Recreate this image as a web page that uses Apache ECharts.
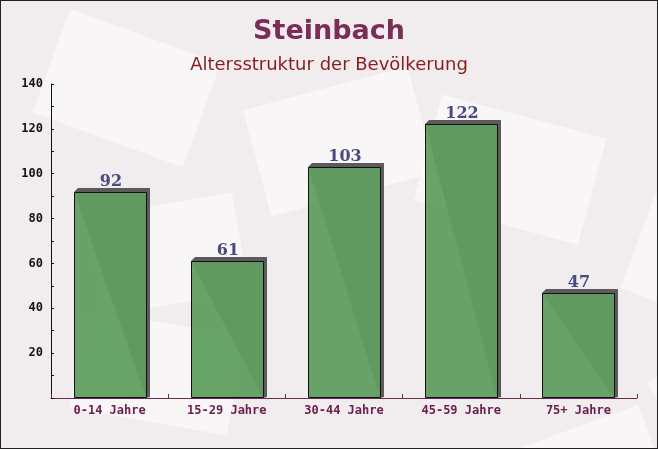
<!DOCTYPE html>
<html><head><meta charset="utf-8">
<script src="https://cdn.jsdelivr.net/npm/echarts@6/dist/echarts.min.js"></script>
<style>html,body{margin:0;padding:0;}#c{width:658px;height:449px;box-sizing:border-box;border:1px solid #222;}</style>
</head><body><div id="c"></div>
<script>
var titleText = 'Steinbach';
var subtitleText = 'Altersstruktur der Bevölkerung';
var categories = ['0-14 Jahre', '15-29 Jahre', '30-44 Jahre', '45-59 Jahre', '75+ Jahre'];
var values = [92, 61, 103, 122, 47];
var yMin = 0, yMax = 140, yStep = 20;

var chart = echarts.init(document.getElementById('c'));
var bgShapes = [];
var rects = [[30,40,160,110,-20],[250,20,170,110,15],[470,30,160,100,-25],[120,180,150,100,10],[360,200,170,110,-15],[560,220,140,100,20],[20,320,160,100,-10],[280,330,150,100,25],[480,360,160,100,-20],[600,40,120,90,30]];
rects.forEach(function(r){
  bgShapes.push({type:'rect', x:r[0], y:r[1], rotation:r[4]*Math.PI/180, originX:r[0]+r[2]/2, originY:r[1]+r[3]/2, shape:{width:r[2],height:r[3]}, style:{fill:'rgba(255,255,255,0.5)'}, z:-10, silent:true});
});
var BW = 72, D = 4;
chart.setOption({
  backgroundColor: '#f1edee',
  graphic: bgShapes,
  title: [
    {text: titleText, left: 'center', top: 12, textStyle:{fontFamily:'DejaVu Sans', fontWeight:'bold', fontSize:27, color:'#7b2d58'}},
    {text: subtitleText, left: 'center', top: 50, textStyle:{fontFamily:'DejaVu Sans', fontWeight:'normal', fontSize:18, color:'#8b1a1a'}}
  ],
  grid: {left: 50, right: 20, top: 83, bottom: 50},
  xAxis: {
    type: 'category', data: categories,
    axisLine: {lineStyle:{color:'#6b2a50', width:1}},
    axisTick: {show:true, inside:true, length:4, lineStyle:{color:'#6b2a50'}},
    axisLabel: {fontFamily:'DejaVu Sans Mono', fontWeight:'bold', fontSize:12, color:'#6b2050', margin:7}
  },
  yAxis: {
    type: 'value', min: yMin, max: yMax, interval: yStep,
    axisLine: {show:true, lineStyle:{color:'#111'}},
    axisTick: {show:true, inside:true, length:3, lineStyle:{color:'#111'}},
    minorTick: {show:true, splitNumber:2, length:3, lineStyle:{color:'#111'}},
    splitLine: {show:false},
    axisLabel: {fontFamily:'DejaVu Sans Mono', fontWeight:'bold', fontSize:12, color:'#111', margin:8,
      formatter: function(v){ return v === 0 ? '' : v; }}
  },
  series: [{
    type: 'custom', data: values.map(function(v,i){return [i,v];}),
    encode: {x:0, y:1},
    renderItem: function(params, api){
      var top = api.coord([api.value(0), api.value(1)]);
      var base = api.coord([api.value(0), 0]);
      var x0 = Math.round(top[0] - BW/2), x1 = x0 + BW;
      var yt = Math.round(top[1]), yb = Math.round(base[1]);
      return {type:'group', children:[
        {type:'polygon', shape:{points:[[x0,yt],[x0+D,yt-D],[x1+D,yt-D],[x1+D,yb-1],[x1,yb]]}, style:{fill:'#5c5a5c'}},
        {type:'rect', shape:{x:x0+0.5, y:yt+0.5, width:BW, height:yb-yt-1}, style:{fill:'rgba(96,158,96,0.95)', stroke:'#111', lineWidth:1}},
        {type:'text', x:x0+BW/2+1, y:yt-10, style:{text:String(api.value(1)), align:'center', verticalAlign:'middle', fontFamily:'DejaVu Serif', fontWeight:'bold', fontSize:16, fill:'#4b4b80'}}
      ]};
    }
  }]
});
</script></body></html>
